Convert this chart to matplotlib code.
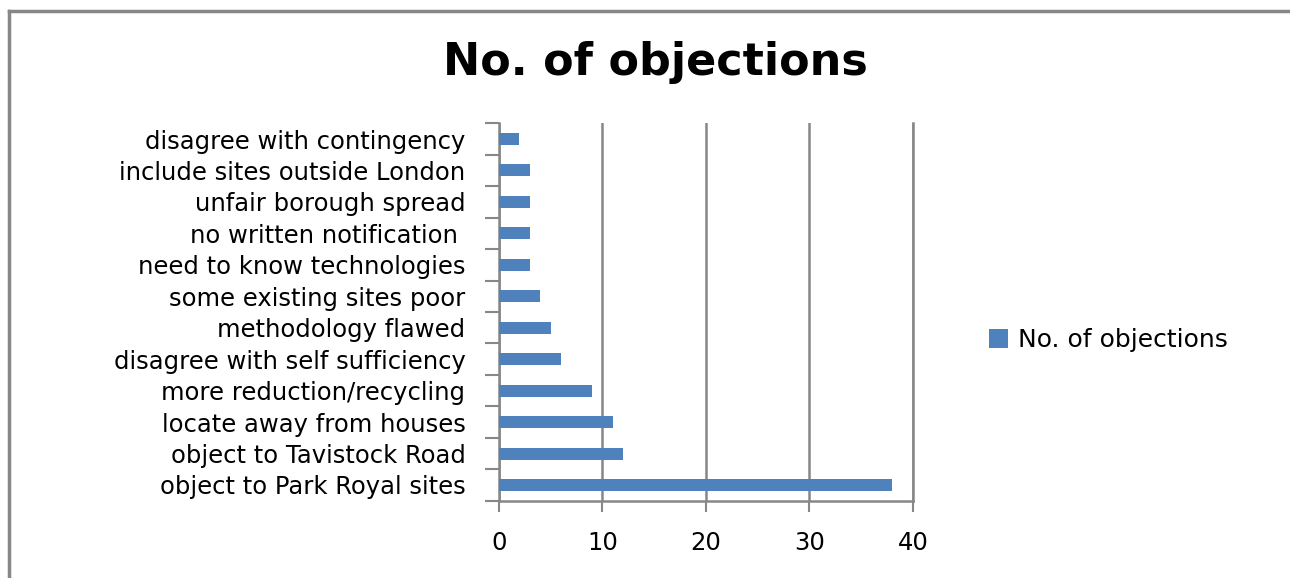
import matplotlib
matplotlib.use('Agg')
import matplotlib.pyplot as plt
from matplotlib.lines import Line2D

categories = [
    'object to Park Royal sites',
    'object to Tavistock Road',
    'locate away from houses',
    'more reduction/recycling',
    'disagree with self sufficiency',
    'methodology flawed',
    'some existing sites poor',
    'need to know technologies',
    'no written notification ',
    'unfair borough spread',
    'include sites outside London',
    'disagree with contingency',
]
objections = [38, 12, 11, 9, 6, 5, 4, 3, 3, 3, 3, 2]
series_name = 'No. of objections'
x_ticks = [0, 10, 20, 30, 40]

plt.rcParams['font.family'] = ['DejaVu Sans']

fig = plt.figure(figsize=(12.9, 5.78), dpi=100)
ax = fig.add_axes([0.3866, 0.1337, 0.3212, 0.653])

ypos = list(range(len(categories)))
ax.barh(ypos, objections, height=0.38, color='#4F81BD', label=series_name, zorder=3)

ax.set_xlim(0, 40)
ax.set_ylim(-0.5, len(categories) - 0.5)
ax.set_xticks(x_ticks)
ax.set_xticklabels([str(t) for t in x_ticks], fontsize=17.5)
ax.set_yticks(ypos)
ax.set_yticklabels(categories, fontsize=17.5)
ax.set_yticks([y - 0.5 for y in range(len(categories) + 1)], minor=True)
ax.tick_params(axis='y', which='major', length=0, pad=24)
ax.tick_params(axis='y', which='minor', length=10, width=1.5, color='#878787', direction='out')
ax.tick_params(axis='x', length=8, width=1.5, color='#878787', direction='out', pad=14)

ax.grid(axis='x', color='#878787', linewidth=1.8, zorder=0)
ax.spines['top'].set_visible(False)
for side in ['left', 'bottom', 'right']:
    ax.spines[side].set_color('#878787')
    ax.spines[side].set_linewidth(1.8)

fig.text(0.508, 0.892, series_name, fontsize=32, fontweight='bold', ha='center', va='center')

ax.legend(loc='center left', bbox_to_anchor=(1.13, 0.425), frameon=False, fontsize=18,
          handlelength=0.75, handleheight=0.75, handletextpad=0.4)

# chart area border (left and top edges visible)
fig.add_artist(Line2D([9 / 1290, 9 / 1290], [0, 1 - 11 / 578], transform=fig.transFigure,
                      color='#878787', linewidth=2.5))
fig.add_artist(Line2D([9 / 1290, 1], [1 - 11 / 578, 1 - 11 / 578], transform=fig.transFigure,
                      color='#878787', linewidth=2.5))

fig.savefig('out.png', dpi=100)
